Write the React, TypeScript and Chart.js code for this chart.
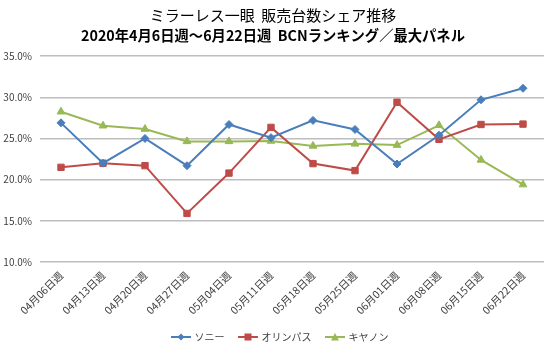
import React, { useEffect, useRef } from "react";
import { Chart, registerables } from "chart.js";

Chart.register(...registerables);

const categories = ["04月06日週", "04月13日週", "04月20日週", "04月27日週", "05月04日週", "05月11日週", "05月18日週", "05月25日週", "06月01日週", "06月08日週", "06月15日週", "06月22日週"];
const sony = [26.9, 22.0, 25.0, 21.7, 26.7, 25.1, 27.2, 26.1, 21.9, 25.4, 29.7, 31.1];
const olympus = [21.5, 22.0, 21.7, 15.9, 20.8, 26.35, 21.95, 21.1, 29.4, 24.9, 26.7, 26.75];
const canon = [28.25, 26.55, 26.15, 24.65, 24.65, 24.7, 24.1, 24.35, 24.2, 26.6, 22.4, 19.4];
const seriesNames = ["ソニー", "オリンパス", "キヤノン"];
const titleLine1 = "ミラーレス一眼  販売台数シェア推移";
const titleLine2 = "2020年4月6日週～6月22日週  BCNランキング／最大パネル";

const FONT = "'Noto Sans CJK JP', 'Noto Sans', sans-serif";

function legendIcon(color: string, style: string): HTMLCanvasElement {
  const c = document.createElement("canvas");
  c.width = 35;
  c.height = 10;
  const ctx = c.getContext("2d")!;
  ctx.strokeStyle = color;
  ctx.fillStyle = color;
  ctx.lineWidth = 2;
  ctx.beginPath();
  ctx.moveTo(15, 5);
  ctx.lineTo(35, 5);
  ctx.stroke();
  ctx.beginPath();
  const cx = 25;
  if (style === "diamond") {
    ctx.moveTo(cx, 1.5); ctx.lineTo(cx + 3.5, 5); ctx.lineTo(cx, 8.5); ctx.lineTo(cx - 3.5, 5);
  } else if (style === "square") {
    ctx.rect(cx - 3.5, 1.5, 7, 7);
  } else {
    ctx.moveTo(cx, 1); ctx.lineTo(cx + 4, 8.5); ctx.lineTo(cx - 4, 8.5);
  }
  ctx.closePath();
  ctx.fill();
  return c;
}

export default function App() {
  const ref = useRef<HTMLCanvasElement | null>(null);
  useEffect(() => {
    document.body.style.margin = "0";
    const colors = ["#4A7EBB", "#BE4B48", "#98B954"];
    const styles = ["rectRot", "rect", "triangle"];
    const iconStyles = ["diamond", "square", "triangle"];
    const radii = [4, 4.5, 4.5];
    const data = [sony, olympus, canon];
    const icons = colors.map((c, i) => legendIcon(c, iconStyles[i]));
    const chart = new Chart(ref.current!, {
      type: "line",
      data: {
        labels: categories,
        datasets: data.map((d, i) => ({
          label: seriesNames[i],
          data: d,
          borderColor: colors[i],
          backgroundColor: colors[i],
          borderWidth: 2,
          pointStyle: styles[i] as any,
          pointRadius: radii[i],
          pointBorderWidth: 1,
          pointBorderColor: colors[i],
          tension: 0,
        })),
      },
      options: {
        responsive: false,
        animation: false,
        layout: { padding: { left: 2, right: 6, top: 5, bottom: 0 } },
        plugins: {
          title: {
            display: true,
            text: titleLine1,
            color: "#000",
            font: { family: FONT, size: 15, weight: "normal" as any },
            padding: { top: 1, bottom: 3 },
          },
          subtitle: {
            display: true,
            text: titleLine2,
            color: "#000",
            font: { family: FONT, size: 14.3, weight: "bold" as any },
            padding: { top: 0, bottom: 12 },
          },
          legend: {
            position: "bottom",
            labels: {
              usePointStyle: true,
              pointStyleWidth: 32,
              font: { family: FONT, size: 10 },
              color: "#404040",
              boxHeight: 10,
              padding: 0,
              generateLabels: (ch: any) =>
                ch.data.datasets.map((ds: any, i: number) => ({
                  text: ds.label,
                  fillStyle: colors[i],
                  strokeStyle: colors[i],
                  pointStyle: icons[i],
                  datasetIndex: i,
                  hidden: false,
                  fontColor: "#404040",
                  lineWidth: 0,
                })),
            },
          },
          tooltip: { enabled: false },
        },
        scales: {
          x: {
            offset: true,
            grid: { display: false, drawTicks: false },
            border: { display: false },
            afterFit: (s: any) => { s.height = 70; },
            ticks: {
              minRotation: 45,
              maxRotation: 45,
              autoSkip: false,
              color: "#404040",
              font: { family: FONT, size: 10.5 },
              padding: 7,
            },
          },
          y: {
            min: 10,
            max: 35,
            grid: { color: "#BEBEBE", lineWidth: 1.5, drawTicks: false },
            border: { display: false },
            afterFit: (s: any) => { s.width = 38; },
            ticks: {
              stepSize: 5,
              color: "#404040",
              font: { family: FONT, size: 10 },
              padding: 8,
              callback: (v: any) => Number(v).toFixed(1) + "%",
            },
          },
        },
      },
    });
    return () => chart.destroy();
  }, []);
  return (
    <div style={{ position: "absolute", left: 0, top: 0, width: 550, height: 352, background: "#fff" }}>
      <canvas ref={ref} width={550} height={352} />
    </div>
  );
}
